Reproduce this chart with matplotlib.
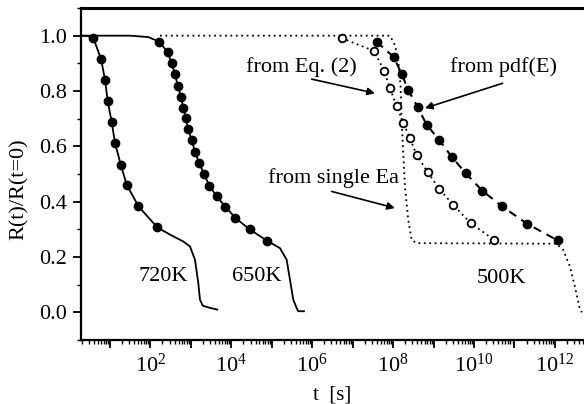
import numpy as np
import matplotlib
matplotlib.use("Agg")
import matplotlib.pyplot as plt
from matplotlib.ticker import LogLocator, FuncFormatter, MultipleLocator

plt.rcParams['font.family'] = ['Liberation Serif', 'DejaVu Serif']
plt.rcParams['mathtext.fontset'] = 'custom'
plt.rcParams['mathtext.rm'] = 'Liberation Serif'

# ---- data (log10 of time in s, normalised resistance) ----
# 720K: measured points and model line
logt_720_pts = [0.592, 0.782, 0.881, 0.947, 1.046, 1.128, 1.269, 1.417, 1.708, 2.173]
r_720_pts = [0.991, 0.916, 0.840, 0.764, 0.687, 0.612, 0.534, 0.461, 0.383, 0.307]
logt_720_line = [0.287, 0.45, 0.592, 0.782, 0.881, 0.947, 1.046, 1.128, 1.269, 1.417,
                 1.708, 2.173, 2.5, 2.815, 2.981, 3.105, 3.186, 3.228, 3.295, 3.475, 3.656]
r_720_line = [1.0, 0.999, 0.991, 0.916, 0.840, 0.764, 0.687, 0.612, 0.534, 0.461,
              0.383, 0.307, 0.28, 0.256, 0.238, 0.190, 0.106, 0.046, 0.024, 0.016, 0.010]

# 650K
logt_650_pts = [2.222, 2.430, 2.529, 2.610, 2.677, 2.759, 2.815, 2.875, 2.939, 3.023,
                3.105, 3.211, 3.327, 3.458, 3.641, 3.858, 4.105, 4.454, 4.884]
r_650_pts = [0.978, 0.940, 0.900, 0.862, 0.819, 0.780, 0.740, 0.702, 0.662, 0.622,
             0.581, 0.539, 0.500, 0.458, 0.419, 0.381, 0.341, 0.300, 0.259]
logt_650_line = [0.287, 1.5, 1.95] + logt_650_pts + [5.205, 5.370, 5.452, 5.533, 5.617, 5.657, 5.798]
r_650_line = [1.0, 1.0, 0.995] + r_650_pts + [0.232, 0.190, 0.118, 0.046, 0.016, 0.004, 0.004]

# 500K: single activation energy (dotted)
logt_single = [2.24, 7.923, 8.046, 8.128, 8.187, 8.212, 8.251, 8.294, 8.375, 8.459, 8.583,
               12.042, 12.205, 12.371, 12.494, 12.618, 12.668]
r_single = [1.0, 1.0, 0.966, 0.912, 0.816, 0.696, 0.577, 0.455, 0.335, 0.262, 0.250,
            0.248, 0.226, 0.166, 0.094, 0.010, 0.0]

# 500K: from Eq. (2) (open circles)
logt_eq2 = [6.729, 7.527, 7.782, 7.923, 8.088, 8.251, 8.417, 8.583, 8.854, 9.141, 9.480, 9.917, 10.493]
r_eq2 = [0.991, 0.945, 0.873, 0.810, 0.746, 0.686, 0.630, 0.569, 0.507, 0.447, 0.389, 0.323, 0.262]

# 500K: from pdf(E) (filled circles, dashed)
logt_pdf = [7.594, 8.022, 8.212, 8.375, 8.607, 8.830, 9.141, 9.447, 9.793, 10.204, 10.695, 11.316, 12.067]
r_pdf = [0.978, 0.922, 0.862, 0.804, 0.742, 0.678, 0.623, 0.563, 0.503, 0.440, 0.383, 0.320, 0.260]

t = lambda a: 10 ** np.array(a)

fig = plt.figure(figsize=(5.84, 4.04), dpi=100)
ax = fig.add_axes([81 / 584, 64 / 404, 503 / 584, 332 / 404])

ax.plot(t(logt_720_line), r_720_line, 'k-', lw=1.3)
ax.plot(t(logt_720_pts), r_720_pts, 'ko', ms=6)
ax.plot(t(logt_650_line), r_650_line, 'k-', lw=1.3)
ax.plot(t(logt_650_pts), r_650_pts, 'ko', ms=6)
ax.plot(t(logt_single), r_single, color='k', ls=(0, (1, 2)), lw=1.3)
ax.plot(t(logt_eq2), r_eq2, color='k', ls=(0, (1, 2)), lw=1.3)
ax.plot(t(logt_eq2), r_eq2, 'o', mfc='white', mec='k', mew=1.3, ms=5.5)
ax.plot(t(logt_pdf), r_pdf, color='k', ls=(0, (4, 3)), lw=1.5)
ax.plot(t(logt_pdf), r_pdf, 'ko', ms=6)

ax.set_xscale('log')
ax.set_xlim(10 ** 0.287, 10 ** 12.72)
ax.set_ylim(-0.1, 1.1)

ax.xaxis.set_major_locator(LogLocator(base=10, numticks=30))
ax.xaxis.set_minor_locator(LogLocator(base=10, subs=np.arange(2, 10), numticks=30))
ax.xaxis.set_major_formatter(FuncFormatter(
    lambda v, p: r'$\mathregular{10^{%d}}$' % round(np.log10(v)) if round(np.log10(v)) % 2 == 0 else ''))
ax.yaxis.set_major_locator(MultipleLocator(0.2))
ax.yaxis.set_minor_locator(MultipleLocator(0.1))
ax.yaxis.set_major_formatter(FuncFormatter(lambda v, p: '%.1f' % v))

ax.spines['right'].set_visible(False)
ax.spines['top'].set_linewidth(2.2)
ax.spines['left'].set_linewidth(1.6)
ax.spines['bottom'].set_linewidth(1.6)
ax.tick_params(which='major', direction='out', length=6, width=1.3, labelsize=16, pad=4)
ax.tick_params(which='minor', direction='out', length=3, width=1.0)
ax.tick_params(top=False, right=False)

ax.set_xlabel('t  [s]', fontsize=15, labelpad=6)
ax.set_ylabel('R(t)/R(t=0)', fontsize=16)
ax.yaxis.set_label_coords(-0.103, 0.455)

fs = 16
ax.text(t(5.731), 0.887, 'from Eq. (2)', fontsize=fs, ha='center', va='center')
ax.text(t(10.722), 0.888, 'from pdf(E)', fontsize=fs, ha='center', va='center')
ax.text(t(6.534), 0.486, 'from single Ea', fontsize=fs, ha='center', va='center')
ax.text(t(2.314), 0.129, '720K', fontsize=fs, ha='center', va='center')
ax.text(t(4.637), 0.129, '650K', fontsize=fs, ha='center', va='center')
ax.text(t(10.683), 0.122, '500K', fontsize=fs, ha='center', va='center')

arr = dict(arrowstyle='-|>', lw=1.2, color='k', mutation_scale=11, shrinkA=0, shrinkB=0)
ax.annotate('', xy=(t(7.552), 0.792), xytext=(t(5.988), 0.843), arrowprops=arr)
ax.annotate('', xy=(t(8.788), 0.738), xytext=(t(10.708), 0.828), arrowprops=arr)
ax.annotate('', xy=(t(8.046), 0.377), xytext=(t(6.482), 0.437), arrowprops=arr)

fig.savefig('out.png', dpi=100)
